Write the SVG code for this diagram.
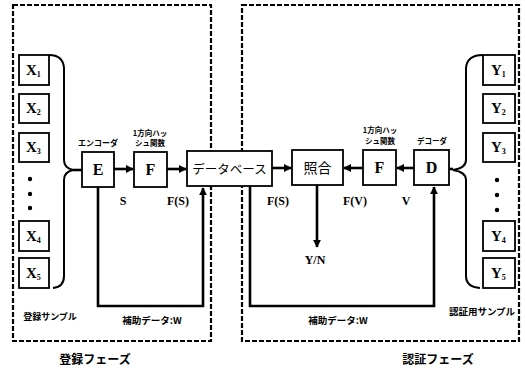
<svg xmlns="http://www.w3.org/2000/svg" width="525" height="374" viewBox="0 0 525 374">
<defs>
<style>
.dash{fill:none;stroke:#000;stroke-width:2.2;stroke-dasharray:5,2}
.box{fill:#fff;stroke:#000;stroke-width:1.8}
.ln{fill:none;stroke:#000;stroke-width:2.6}
.br{fill:none;stroke:#000;stroke-width:2}
.lt{font-family:"Liberation Serif",serif;font-weight:bold;fill:#000}
.jp{font-family:"Noto Sans CJK JP",sans-serif;font-weight:bold;fill:#000}
.jr{font-family:"Noto Sans CJK JP",sans-serif;fill:#000}
</style>
<marker id="ah" viewBox="0 0 10 10" refX="9" refY="5" markerWidth="3" markerHeight="3" orient="auto">
<path d="M0,0 L10,5 L0,10 z" fill="#000"/>
</marker>
</defs>
<rect width="525" height="374" fill="#fff"/>
<g id="phases">
<rect class="dash" x="13" y="5" width="198" height="336"/>
<rect class="dash" x="242" y="5" width="277" height="336"/>
</g>
<g id="connectors">
<path class="br" d="M49,55 Q63,55 64,68 L64,160 Q64,168 73,170 Q64,172 64,180 L64,276 Q64,287 53,288"/>
<line class="ln" x1="73" y1="170" x2="82" y2="170"/>
<path class="br" d="M483,55 Q467,55 466,68 L466,160 Q466,168 453,170 Q466,172 466,180 L466,276 Q466,287 480,288"/>
<line class="ln" x1="453" y1="169" x2="449" y2="169"/>
<line class="ln" x1="114" y1="169" x2="133" y2="169" marker-end="url(#ah)"/>
<line class="ln" x1="167" y1="169" x2="186" y2="169" marker-end="url(#ah)"/>
<line class="ln" x1="272" y1="168" x2="291" y2="168" marker-end="url(#ah)"/>
<line class="ln" x1="363" y1="168" x2="344" y2="168" marker-end="url(#ah)"/>
<line class="ln" x1="414" y1="168" x2="397" y2="168" marker-end="url(#ah)"/>
<line class="ln" x1="317" y1="185" x2="317" y2="247" marker-end="url(#ah)"/>
<path class="ln" d="M98,187 V306 H203 V188" marker-end="url(#ah)"/>
<path class="ln" d="M250,186 V306 H434 V187" marker-end="url(#ah)"/>
</g>
<g id="X1"><rect class="box" x="19" y="55" width="30" height="30"/><text class="lt" x="26" y="75" font-size="15">X<tspan font-size="8" dy="2">1</tspan></text></g>
<g id="X2"><rect class="box" x="19" y="94" width="30" height="29"/><text class="lt" x="26" y="113" font-size="15">X<tspan font-size="8" dy="2">2</tspan></text></g>
<g id="X3"><rect class="box" x="19" y="133" width="30" height="29"/><text class="lt" x="26" y="152" font-size="15">X<tspan font-size="8" dy="2">3</tspan></text></g>
<g id="Xdots"><circle cx="30" cy="179" r="2.2"/><circle cx="30" cy="194" r="2.2"/><circle cx="30" cy="208" r="2.2"/></g>
<g id="X4"><rect class="box" x="19" y="221" width="30" height="30"/><text class="lt" x="26" y="241" font-size="15">X<tspan font-size="8" dy="2">4</tspan></text></g>
<g id="X5"><rect class="box" x="19" y="258" width="30" height="30"/><text class="lt" x="26" y="278" font-size="15">X<tspan font-size="8" dy="2">5</tspan></text></g>
<g id="Y1"><rect class="box" x="483" y="55" width="32" height="30"/><text class="lt" x="491" y="75" font-size="15">Y<tspan font-size="8" dy="2">1</tspan></text></g>
<g id="Y2"><rect class="box" x="483" y="94" width="32" height="29"/><text class="lt" x="491" y="113" font-size="15">Y<tspan font-size="8" dy="2">2</tspan></text></g>
<g id="Y3"><rect class="box" x="483" y="133" width="32" height="29"/><text class="lt" x="491" y="152" font-size="15">Y<tspan font-size="8" dy="2">3</tspan></text></g>
<g id="Ydots"><circle cx="497" cy="180" r="2.2"/><circle cx="497" cy="195" r="2.2"/><circle cx="497" cy="210" r="2.2"/></g>
<g id="Y4"><rect class="box" x="483" y="221" width="32" height="30"/><text class="lt" x="491" y="241" font-size="15">Y<tspan font-size="8" dy="2">4</tspan></text></g>
<g id="Y5"><rect class="box" x="483" y="258" width="32" height="30"/><text class="lt" x="491" y="278" font-size="15">Y<tspan font-size="8" dy="2">5</tspan></text></g>
<g id="E"><rect class="box" x="82" y="152" width="32" height="35"/><text class="lt" x="98" y="175" font-size="16" text-anchor="middle">E</text><text class="jp" x="98" y="146" font-size="8" text-anchor="middle">エンコーダ</text></g>
<g id="F1"><rect class="box" x="134" y="152" width="33" height="35"/><text class="lt" x="150.5" y="175" font-size="16" text-anchor="middle">F</text><text class="jp" x="150" y="136" font-size="7.5" text-anchor="middle">1方向ハッ</text><text class="jp" x="150" y="146" font-size="7.5" text-anchor="middle">シュ関数</text></g>
<g id="DB"><rect class="box" x="187" y="151" width="85" height="35"/><text class="jr" x="229.5" y="174" font-size="12.5" text-anchor="middle">データベース</text></g>
<g id="match"><rect class="box" x="292" y="150" width="51" height="35"/><text class="jr" x="317.5" y="173" font-size="14" text-anchor="middle">照合</text></g>
<g id="F2"><rect class="box" x="363" y="150" width="33" height="35"/><text class="lt" x="379.5" y="173" font-size="16" text-anchor="middle">F</text><text class="jp" x="380" y="133" font-size="7.5" text-anchor="middle">1方向ハッ</text><text class="jp" x="380" y="144" font-size="7.5" text-anchor="middle">シュ関数</text></g>
<g id="D"><rect class="box" x="414" y="150" width="35" height="35"/><text class="lt" x="431.5" y="173" font-size="16" text-anchor="middle">D</text><text class="jp" x="432" y="144" font-size="7.5" text-anchor="middle">デコーダ</text></g>
<g id="labels">
<text class="lt" x="123" y="205" font-size="12" text-anchor="middle">S</text>
<text class="lt" x="178" y="205" font-size="12" text-anchor="middle">F(S)</text>
<text class="lt" x="278" y="205" font-size="12" text-anchor="middle">F(S)</text>
<text class="lt" x="355" y="205" font-size="12" text-anchor="middle">F(V)</text>
<text class="lt" x="406" y="205" font-size="12" text-anchor="middle">V</text>
<text class="lt" x="315" y="264" font-size="12" text-anchor="middle">Y/N</text>
<text class="jp" x="152" y="324" font-size="9.5" text-anchor="middle">補助データ:W</text>
<text class="jp" x="338" y="324" font-size="9.5" text-anchor="middle">補助データ:W</text>
<text class="jp" x="50" y="320" font-size="9" text-anchor="middle">登録サンプル</text>
<text class="jp" x="482" y="315" font-size="9.5" text-anchor="middle">認証用サンプル</text>
<text class="jp" x="95" y="364" font-size="12" text-anchor="middle">登録フェーズ</text>
<text class="jp" x="438" y="364" font-size="12" text-anchor="middle">認証フェーズ</text>
</g>
</svg>
